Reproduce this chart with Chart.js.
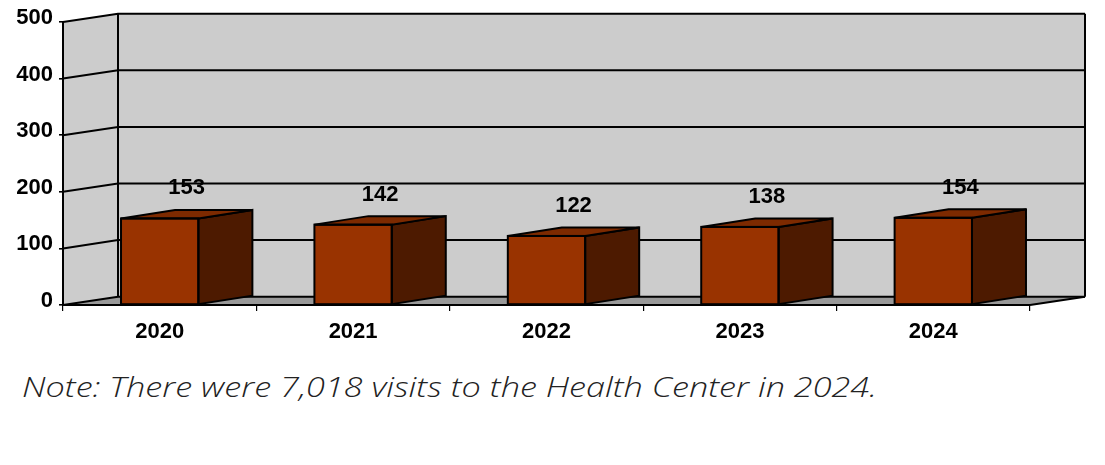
<!DOCTYPE html>
<html>
<head>
<meta charset="utf-8">
<script src="https://cdn.jsdelivr.net/npm/chart.js@4"></script>
<style>
  html, body { margin: 0; padding: 0; background: #ffffff; }
  #wrap { position: relative; width: 1105px; height: 465px; overflow: hidden; }
  #chart { position: absolute; left: 0; top: 0; }
  #note {
    position: absolute; left: 22px; top: 372px;
    font-family: "Open Sans", "Lato", sans-serif; font-style: italic; font-weight: 300;
    font-size: 28px; line-height: 28px; color: #222222; white-space: nowrap;
    transform-origin: 0 0;
  }
</style>
</head>
<body>
<div id="wrap">
  <canvas id="chart" width="1105" height="350"></canvas>
  <div id="note">Note: There were 7,018 visits to the Health Center in 2024.</div>
</div>
<script>
const categories = ['2020', '2021', '2022', '2023', '2024'];
const visits = [153, 142, 122, 138, 154];
const yTicks = [0, 100, 200, 300, 400, 500];

const WALL = { dx: 55, dy: -8.3 };
const BAR = { dx: 54, dy: -8.5 };
const LINE_W = 2;
const LABEL_FONT = 'bold 22px "Liberation Sans", Arial, sans-serif';

const threeD = {
  id: 'threeD',
  beforeDraw(chart) {
    const ctx = chart.ctx;
    const a = chart.chartArea;
    const ys = chart.scales.y;
    const L = a.left, R = a.right;
    const y0 = ys.getPixelForValue(yTicks[0]);
    const yT = ys.getPixelForValue(yTicks[yTicks.length - 1]);
    ctx.save();
    ctx.lineJoin = 'miter';
    // left wall
    ctx.fillStyle = '#cccccc';
    ctx.beginPath();
    ctx.moveTo(L, yT); ctx.lineTo(L + WALL.dx, yT + WALL.dy);
    ctx.lineTo(L + WALL.dx, y0 + WALL.dy); ctx.lineTo(L, y0); ctx.closePath();
    ctx.fill();
    // back wall
    ctx.fillRect(L + WALL.dx, yT + WALL.dy, R - L, y0 - yT);
    // floor
    ctx.fillStyle = '#999999';
    ctx.beginPath();
    ctx.moveTo(L, y0); ctx.lineTo(L + WALL.dx, y0 + WALL.dy);
    ctx.lineTo(R + WALL.dx, y0 + WALL.dy); ctx.lineTo(R, y0); ctx.closePath();
    ctx.fill();
    // grid lines
    ctx.strokeStyle = '#000000';
    ctx.lineWidth = LINE_W;
    yTicks.forEach(v => {
      const py = ys.getPixelForValue(v);
      ctx.beginPath();
      ctx.moveTo(L, py);
      ctx.lineTo(L + WALL.dx, py + WALL.dy);
      ctx.lineTo(R + WALL.dx, py + WALL.dy);
      ctx.stroke();
    });
    // wall edges
    ctx.beginPath();
    ctx.moveTo(L + WALL.dx, yT + WALL.dy); ctx.lineTo(L + WALL.dx, y0 + WALL.dy);
    ctx.moveTo(R + WALL.dx, yT + WALL.dy); ctx.lineTo(R + WALL.dx, y0 + WALL.dy);
    ctx.moveTo(R, y0); ctx.lineTo(R + WALL.dx, y0 + WALL.dy);
    ctx.stroke();
    ctx.restore();
  },
  afterDatasetsDraw(chart) {
    const ctx = chart.ctx;
    const meta = chart.getDatasetMeta(0);
    ctx.save();
    ctx.strokeStyle = '#000000';
    ctx.lineWidth = LINE_W;
    ctx.lineJoin = 'miter';
    meta.data.forEach((bar, i) => {
      const p = bar.getProps(['x', 'y', 'base', 'width'], true);
      const l = p.x - p.width / 2, r = p.x + p.width / 2;
      // side face
      ctx.fillStyle = '#4d1a00';
      ctx.beginPath();
      ctx.moveTo(r, p.y); ctx.lineTo(r + BAR.dx, p.y + BAR.dy);
      ctx.lineTo(r + BAR.dx, p.base + BAR.dy); ctx.lineTo(r, p.base); ctx.closePath();
      ctx.fill(); ctx.stroke();
      // top face
      ctx.fillStyle = '#7d2a00';
      ctx.beginPath();
      ctx.moveTo(l, p.y); ctx.lineTo(l + BAR.dx, p.y + BAR.dy);
      ctx.lineTo(r + BAR.dx, p.y + BAR.dy); ctx.lineTo(r, p.y); ctx.closePath();
      ctx.fill(); ctx.stroke();
      // front outline
      ctx.strokeRect(l, p.y, p.width, p.base - p.y);
      // value label
      ctx.fillStyle = '#000000';
      ctx.font = LABEL_FONT;
      ctx.textAlign = 'center';
      ctx.textBaseline = 'middle';
      ctx.fillText(String(visits[i]), p.x + BAR.dx / 2, p.y - 30);
    });
    ctx.restore();
  }
};

const tickFont = { family: '"Liberation Sans", Arial, sans-serif', weight: 'bold', size: 22 };

new Chart(document.getElementById('chart'), {
  type: 'bar',
  data: {
    labels: categories,
    datasets: [{
      data: visits,
      backgroundColor: '#993300',
      borderColor: '#000000',
      borderWidth: 0,
      barPercentage: 0.4,
      categoryPercentage: 1.0
    }]
  },
  options: {
    responsive: false,
    animation: false,
    layout: { padding: { top: 22, right: 75, left: 0, bottom: 0 } },
    plugins: { legend: { display: false }, tooltip: { enabled: false } },
    scales: {
      x: {
        offset: true,
        grid: { display: true, drawOnChartArea: false, drawTicks: true, tickLength: 6, color: '#000000', lineWidth: 1.2, offset: true },
        border: { display: true, color: '#000000', width: 2 },
        ticks: { color: '#000000', font: tickFont, padding: 8, maxRotation: 0 },
        afterFit: s => { s.height = 45; }
      },
      y: {
        min: yTicks[0],
        max: yTicks[yTicks.length - 1],
        afterBuildTicks: s => { s.ticks = yTicks.map(v => ({ value: v })); },
        grid: { display: true, drawOnChartArea: false, drawTicks: true, tickLength: 4, color: '#000000', lineWidth: 1.6 },
        border: { display: true, color: '#000000', width: 2 },
        ticks: { color: '#000000', font: tickFont, padding: 6, labelOffset: -4 },
        afterFit: s => { s.width = 63; }
      }
    }
  },
  plugins: [threeD]
});

// fit the note to the reference text width
const note = document.getElementById('note');
const targetW = 855;
const w = note.getBoundingClientRect().width;
if (w > 0) note.style.transform = 'scaleX(' + (targetW / w).toFixed(4) + ')';
</script>
</body>
</html>
